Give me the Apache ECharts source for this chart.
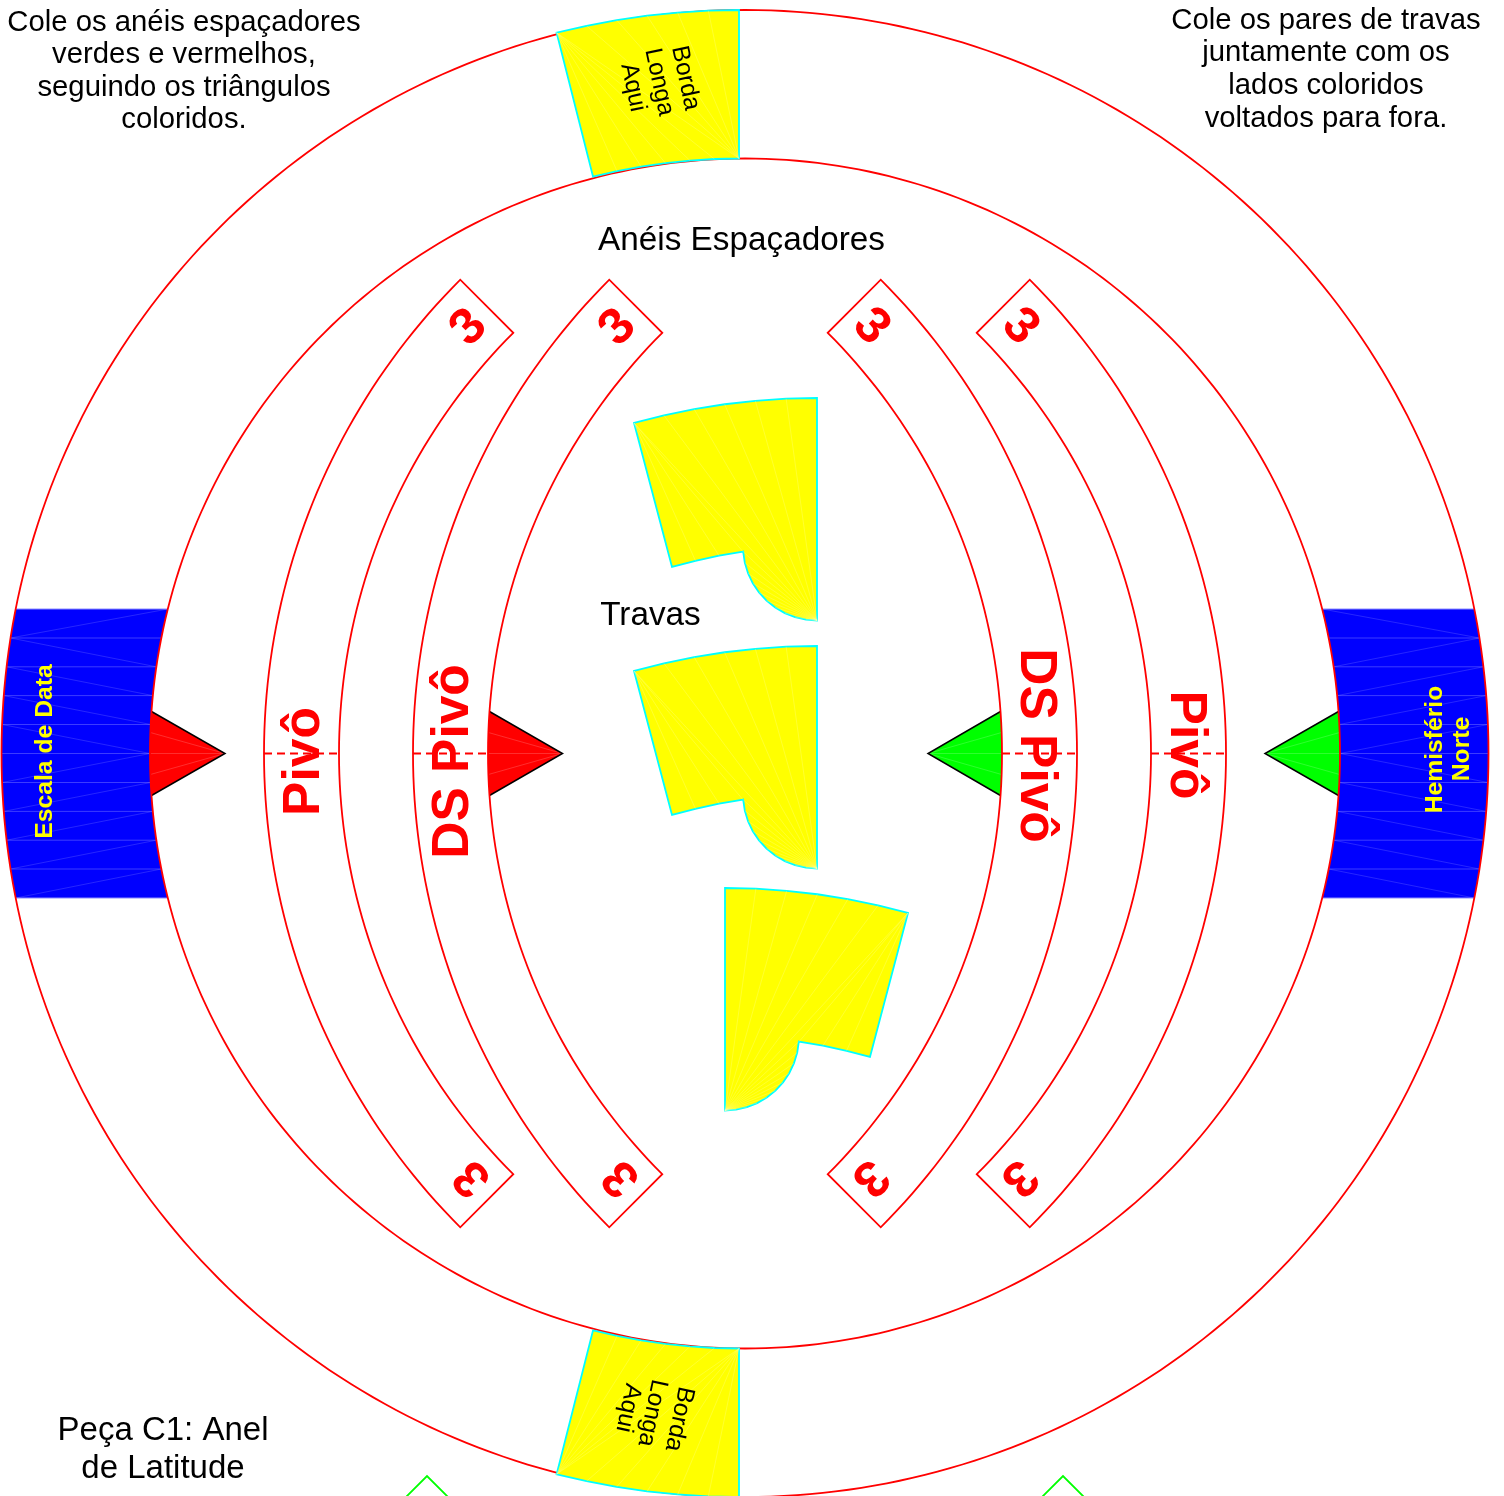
<!DOCTYPE html>
<html><head><meta charset="utf-8">
<script src="https://cdn.jsdelivr.net/npm/echarts@6/dist/echarts.min.js"></script>
<style>html,body{margin:0;padding:0;background:#fff}#c{width:1504px;height:1496px}</style></head>
<body><div id="c"></div>
<script>
// ---- Reference data (page units, y down) ----
const discCentre = [745, 753.5];
const discRadii = [595, 743.5];
const pieceAngle = 14.2;
const spacerRadii = [595, 670];
const spacerCentres = [934, 1083, 407, 556];
const spacerEndAngle = 45;
const bandTicks = [609, 638, 666.8, 695.6, 724.5, 753.5, 782.5, 811.4, 840.2, 869, 898];
const borderPieces = [[739, 753.5, 0], [739, 753.5, 180]];
const lockPieces = [[817, 398, 1], [817, 646, 1], [725, 888, -1]];
const lockRadii = [525, 684];
const lockCornerOffsets = [145, 183];
const lockNotchDepth = 148.5;
const lockCornerRadius = 74;
const redPointers = [[225, 150], [562.5, 488]];
const greenPointers = [[928, 1002], [1265, 1340]];
const pointerHalfHeight = 42;
const dashSpans = [[264, 339], [413, 488], [1002, 1077], [1151, 1226]];
const chevronTips = [[427, 1476], [1063, 1476]];
const textLabels = [
  ['Cole os anéis espaçadores', 184, 23, 29.3, 0, '#000', false],
  ['verdes e vermelhos,', 184, 55, 29.3, 0, '#000', false],
  ['seguindo os triângulos', 184, 88, 29.3, 0, '#000', false],
  ['coloridos.', 184, 120, 29.3, 0, '#000', false],
  ['Cole os pares de travas', 1326, 21, 29.3, 0, '#000', false],
  ['juntamente com os', 1326, 53, 29.3, 0, '#000', false],
  ['lados coloridos', 1326, 86, 29.3, 0, '#000', false],
  ['voltados para fora.', 1326, 119, 29.3, 0, '#000', false],
  ['Anéis Espaçadores', 741.5, 241, 33.3, 0, '#000', false],
  ['Travas', 650.5, 616, 33.3, 0, '#000', false],
  ['Peça C1: Anel', 163, 1431, 33, 0, '#000', false],
  ['de Latitude', 163, 1469, 33, 0, '#000', false],
  ['Pivô', 305, 761.5, 51.5, 90, '#f00', true],
  ['DS Pivô', 453.5, 761.5, 51.5, 90, '#f00', true],
  ['Pivô', 1185, 745, 51.5, -90, '#f00', true],
  ['DS Pivô', 1035.5, 745.5, 51.5, -90, '#f00', true],
  ['Escala de Data', 45, 751.5, 24.7, 90, '#ff0', true],
  ['Hemisfério', 1435, 749.5, 24.7, 90, '#ff0', true],
  ['Norte', 1462, 749, 24.7, 90, '#ff0', true],
  ['Borda', 685.5, 78, 24.5, -78, '#000', false],
  ['Longa', 659, 82, 24.5, -78, '#000', false],
  ['Aqui', 633, 87.5, 24.5, -78, '#000', false],
  ['Borda', 679, 1419, 24.5, -102, '#000', false],
  ['Longa', 652, 1413, 24.5, -102, '#000', false],
  ['Aqui', 628, 1408, 24.5, -102, '#000', false],
  ['3', 469, 328, 51, 45, '#f00', true],
  ['3', 618, 328, 51, 45, '#f00', true],
  ['3', 871, 327, 51, -45, '#f00', true],
  ['3', 1020, 327, 51, -45, '#f00', true],
  ['3', 473, 1177.5, 51, 135, '#f00', true],
  ['3', 622, 1177.5, 51, 135, '#f00', true],
  ['3', 869.5, 1177, 51, -135, '#f00', true],
  ['3', 1018.5, 1177, 51, -135, '#f00', true]
];

// ---- Geometry helpers ----
const rad = d => d * Math.PI / 180;
const deg = r => r * 180 / Math.PI;
function arc(cx, cy, r, a0, a1, n, dir) {
  const out = [];
  for (let i = 0; i <= n; i++) {
    const a = rad(a0 + (a1 - a0) * i / n);
    out.push([cx + (dir || 1) * r * Math.sin(a), cy - r * Math.cos(a)]);
  }
  return out;
}
const fills = [], seams = [], strokes = [], overlays = [];
const P = (list, pts, style, closed) => list.push({ pts, style, closed });
const red = { stroke: '#ff0000', lineWidth: 1.8 };

// blue bands, triangulated
const [cx, cy] = discCentre, [rIn, rOut] = discRadii;
[-1, 1].forEach(side => {
  const xAt = (r, y) => cx + side * Math.sqrt(r * r - (y - cy) * (y - cy));
  const h = deg(Math.asin((cy - bandTicks[0]) / rOut));
  const hI = deg(Math.asin((cy - bandTicks[0]) / rIn));
  const outer = arc(cx, cy, rOut, side * (90 - h), side * (90 + h), 60);
  const inner = arc(cx, cy, rIn, side * (90 + hI), side * (90 - hI), 60);
  P(fills, outer.concat(inner), { fill: '#0000ff' }, true);
  bandTicks.forEach((y, i) => {
    const edge = i === 0 || i === bandTicks.length - 1;
    P(seams, [[xAt(rOut, y), y], [xAt(rIn, y), y]], { stroke: edge ? '#8c8cff' : '#3c3cff', lineWidth: 1 });
  });
  const d = { stroke: 'rgba(200,200,255,.32)', lineWidth: .6 };
  P(seams, [[xAt(rIn, bandTicks[0]), bandTicks[0]], [xAt(rOut, bandTicks[1]), bandTicks[1]]], d);
  for (let i = 1; i < 5; i++) P(seams, [[xAt(rOut, bandTicks[i]), bandTicks[i]], [xAt(rIn, bandTicks[i + 1]), bandTicks[i + 1]]], d);
  for (let i = 5; i < 10; i++) P(seams, [[xAt(rIn, bandTicks[i]), bandTicks[i]], [xAt(rOut, bandTicks[i + 1]), bandTicks[i + 1]]], d);
});

// pointers
function pointer(p, colour) {
  const [tip, midX] = p, hh = pointerHalfHeight;
  const right = tip > midX;
  const a = deg(Math.asin(hh / rIn));
  const centre = midX + (right ? rIn : -rIn);
  const m = right ? -1 : 1;
  const base = arc(centre, cy, rIn, m * (90 - a), m * (90 + a), 16);
  P(fills, [[tip, cy]].concat(base), { fill: colour }, true);
  const q = { stroke: 'rgba(255,255,255,.3)', lineWidth: .6 };
  P(seams, [[tip, cy], [midX, cy]], q);
  P(seams, [[tip, cy], [midX + (right ? .4 : -.4), cy - 21]], q);
  P(seams, [[tip, cy], [midX + (right ? .4 : -.4), cy + 21]], q);
  P(strokes, [base[0], [tip, cy], base[base.length - 1]], { stroke: '#000', lineWidth: 1.5 });
}
redPointers.forEach(p => pointer(p, '#ff0000'));
greenPointers.forEach(p => pointer(p, '#00ff00'));

// main disc circles
discRadii.forEach(r => P(strokes, arc(cx, cy, r, 0, 360, 360), red, true));

// spacer rings
spacerCentres.forEach((c, i) => {
  const m = i < 2 ? -1 : 1;
  const inner = arc(c, cy, spacerRadii[0], m * spacerEndAngle, m * (180 - spacerEndAngle), 90);
  const outer = arc(c, cy, spacerRadii[1], m * (180 - spacerEndAngle), m * spacerEndAngle, 90);
  P(strokes, inner.concat(outer), red, true);
});
dashSpans.forEach(s => P(strokes, [[s[0], cy], [s[1], cy]], { stroke: '#ff0000', lineWidth: 2, lineDash: [8, 5] }));

// yellow pieces
const cyanEdge = { fill: '#ffff00', stroke: '#00ffff', lineWidth: 1.8 };
const seamY = { stroke: 'rgba(255,255,170,.55)', lineWidth: .5 };
borderPieces.forEach(b => {
  const [x, y, a0] = b;
  const a1 = a0 === 0 ? -pieceAngle : 180 + pieceAngle;
  const o = arc(x, y, rOut, a0, a1, 6), n = arc(x, y, rIn, a1, a0, 6);
  P(overlays, o.concat(n), cyanEdge, true);
  o.slice(1, -1).forEach(pt => P(overlays, [n[6], pt], seamY));
  n.slice(1, -1).forEach(pt => P(overlays, [o[6], pt], seamY));
  P(overlays, [o[6], n[6]], seamY);
});
lockPieces.forEach(l => {
  const [x, topY, dir] = l;
  const [rLow, rHigh] = lockRadii, [offLow, offHigh] = lockCornerOffsets;
  const notch = deg(Math.asin(lockCornerRadius / rLow));
  const o = arc(x, topY + rHigh, rHigh, 0, -deg(Math.asin(offHigh / rHigh)), 6, dir);
  const n = arc(x, topY + lockNotchDepth + rLow, rLow, -deg(Math.asin(offLow / rLow)), -notch, 3, dir);
  const q = arc(x, topY + lockNotchDepth, lockCornerRadius, -94, -180, 10, dir);
  P(overlays, o.concat(n, q), cyanEdge, true);
  const low = q[q.length - 1];
  o.slice(1).forEach(pt => P(overlays, [low, pt], seamY));
  q.slice(0, -1).forEach(pt => P(overlays, [low, pt], seamY));
  n.slice(1).forEach(pt => P(overlays, [o[6], pt], seamY));
});
chevronTips.forEach(t => P(overlays, [[t[0] - 24, t[1] + 24], t, [t[0] + 24, t[1] + 24]], { stroke: '#00ff00', lineWidth: 1.8 }));

// ---- Chart ----
const shapeSeries = (list, z) => ({
  type: 'custom', coordinateSystem: 'cartesian2d', silent: true, z, animation: false, clip: true,
  data: list.map((s, i) => [0, 0, i]),
  renderItem(params, api) {
    const s = list[api.value(2)];
    const points = s.pts.map(p => api.coord(p));
    return {
      type: s.closed ? 'polygon' : 'polyline',
      shape: { points },
      style: Object.assign({ fill: s.closed ? 'none' : null }, s.style)
    };
  }
});
const textSeries = {
  type: 'custom', coordinateSystem: 'cartesian2d', silent: true, z: 9, animation: false, clip: false,
  data: textLabels.map((s, i) => [s[1], s[2], i]),
  renderItem(params, api) {
    const t = textLabels[api.value(2)];
    const p = api.coord([t[1], t[2]]);
    return {
      type: 'text', x: p[0], y: p[1], rotation: rad(t[4]),
      style: {
        text: t[0], fill: t[5], align: 'center', verticalAlign: 'middle',
        font: (t[6] ? 'bold ' : '') + t[3] + 'px "Liberation Sans", Arial, sans-serif'
      }
    };
  }
};
const chart = echarts.init(document.getElementById('c'), null, { renderer: 'canvas' });
chart.setOption({
  animation: false,
  backgroundColor: '#ffffff',
  grid: { left: 0, right: 0, top: 0, bottom: 0 },
  xAxis: { type: 'value', min: 0, max: 1504, show: false },
  yAxis: { type: 'value', min: 0, max: 1496, inverse: true, show: false },
  series: [shapeSeries(fills, 1), shapeSeries(seams, 2), shapeSeries(strokes, 3), shapeSeries(overlays, 4), textSeries]
});
</script></body></html>
